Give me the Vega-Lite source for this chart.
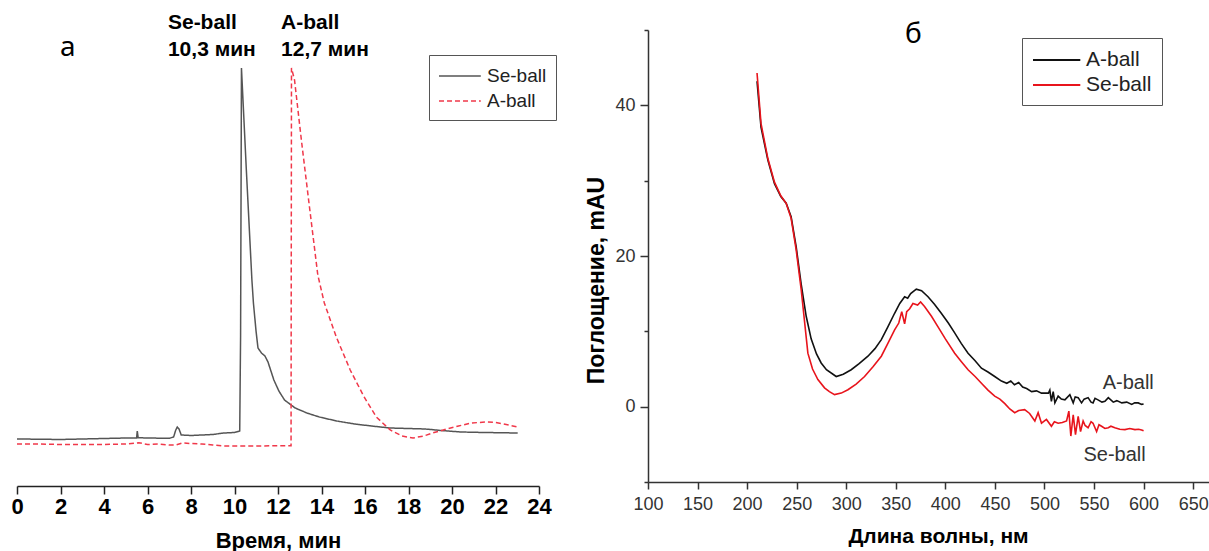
{
  "$schema": "https://vega.github.io/schema/vega-lite/v6.json",
  "background": "white",
  "padding": {"left": 10, "top": 12, "right": 0, "bottom": 0},
  "bounds": "flush",
  "spacing": 109,
  "config": {"font": "Liberation Sans", "view": {"stroke": null}},
  "datasets": {
    "chrom": [
      {"t":0,"v":47,"s":"Se-ball"},{"t":1,"v":46.8,"s":"Se-ball"},{"t":2,"v":46.5,"s":"Se-ball"},{"t":3,"v":47,"s":"Se-ball"},{"t":4,"v":47.5,"s":"Se-ball"},{"t":5,"v":48,"s":"Se-ball"},{"t":5.5,"v":48,"s":"Se-ball"},{"t":5.53,"v":55,"s":"Se-ball"},{"t":5.57,"v":48.3,"s":"Se-ball"},{"t":6,"v":48,"s":"Se-ball"},{"t":7,"v":47.7,"s":"Se-ball"},{"t":7.2,"v":49,"s":"Se-ball"},{"t":7.3,"v":56,"s":"Se-ball"},{"t":7.37,"v":59,"s":"Se-ball"},{"t":7.45,"v":57,"s":"Se-ball"},{"t":7.55,"v":51,"s":"Se-ball"},{"t":8,"v":50.5,"s":"Se-ball"},{"t":9,"v":51.5,"s":"Se-ball"},{"t":9.5,"v":53,"s":"Se-ball"},{"t":10,"v":53.5,"s":"Se-ball"},{"t":10.24,"v":55,"s":"Se-ball"},{"t":10.28,"v":150,"s":"Se-ball"},{"t":10.32,"v":418,"s":"Se-ball"},{"t":10.54,"v":318,"s":"Se-ball"},{"t":10.8,"v":206,"s":"Se-ball"},{"t":10.87,"v":183,"s":"Se-ball"},{"t":10.99,"v":155,"s":"Se-ball"},{"t":11.08,"v":138,"s":"Se-ball"},{"t":11.24,"v":133,"s":"Se-ball"},{"t":11.4,"v":130,"s":"Se-ball"},{"t":11.54,"v":124,"s":"Se-ball"},{"t":11.81,"v":106,"s":"Se-ball"},{"t":12.04,"v":95,"s":"Se-ball"},{"t":12.3,"v":86,"s":"Se-ball"},{"t":12.79,"v":78,"s":"Se-ball"},{"t":13.33,"v":73,"s":"Se-ball"},{"t":13.9,"v":69,"s":"Se-ball"},{"t":14.7,"v":65,"s":"Se-ball"},{"t":15.52,"v":62,"s":"Se-ball"},{"t":16.3,"v":60,"s":"Se-ball"},{"t":17.15,"v":58,"s":"Se-ball"},{"t":18.78,"v":57,"s":"Se-ball"},{"t":19.5,"v":55.5,"s":"Se-ball"},{"t":20.41,"v":54,"s":"Se-ball"},{"t":21.5,"v":53.5,"s":"Se-ball"},{"t":23.02,"v":53,"s":"Se-ball"},
      {"t":0,"v":42,"s":"A-ball"},{"t":1,"v":42,"s":"A-ball"},{"t":2,"v":41.5,"s":"A-ball"},{"t":3,"v":41.5,"s":"A-ball"},{"t":4,"v":41.5,"s":"A-ball"},{"t":5,"v":42,"s":"A-ball"},{"t":5.6,"v":43.3,"s":"A-ball"},{"t":6,"v":41.5,"s":"A-ball"},{"t":6.5,"v":42,"s":"A-ball"},{"t":7,"v":41,"s":"A-ball"},{"t":7.3,"v":41,"s":"A-ball"},{"t":7.6,"v":43,"s":"A-ball"},{"t":8,"v":42.5,"s":"A-ball"},{"t":8.5,"v":42,"s":"A-ball"},{"t":9,"v":41,"s":"A-ball"},{"t":9.5,"v":40,"s":"A-ball"},{"t":10,"v":40,"s":"A-ball"},{"t":11,"v":40,"s":"A-ball"},{"t":12,"v":40.3,"s":"A-ball"},{"t":12.6,"v":40.3,"s":"A-ball"},{"t":12.62,"v":418,"s":"A-ball"},{"t":12.76,"v":406,"s":"A-ball"},{"t":13.08,"v":345,"s":"A-ball"},{"t":13.43,"v":282,"s":"A-ball"},{"t":13.83,"v":211,"s":"A-ball"},{"t":14.13,"v":183,"s":"A-ball"},{"t":14.68,"v":149,"s":"A-ball"},{"t":15.32,"v":116,"s":"A-ball"},{"t":15.96,"v":89,"s":"A-ball"},{"t":16.52,"v":69,"s":"A-ball"},{"t":17.16,"v":56,"s":"A-ball"},{"t":17.7,"v":50,"s":"A-ball"},{"t":18.21,"v":48,"s":"A-ball"},{"t":18.7,"v":50,"s":"A-ball"},{"t":19.11,"v":53,"s":"A-ball"},{"t":19.76,"v":57,"s":"A-ball"},{"t":20.3,"v":60,"s":"A-ball"},{"t":20.9,"v":63,"s":"A-ball"},{"t":21.56,"v":64,"s":"A-ball"},{"t":22.0,"v":63.5,"s":"A-ball"},{"t":22.37,"v":62,"s":"A-ball"},{"t":23.02,"v":59,"s":"A-ball"}
    ],
    "annL": [
      {"t":6.94,"v":463,"label":"Se-ball"},
      {"t":6.94,"v":436,"label":"10,3 мин"},
      {"t":12.14,"v":463,"label":"A-ball"},
      {"t":12.14,"v":436,"label":"12,7 мин"}
    ],
    "panelL": [{"t":2.34,"v":438,"label":"а"}],
    "spec": [
      {"nm":210,"a":43.2,"s":"A-ball"},{"nm":214,"a":37.1,"s":"A-ball"},{"nm":221,"a":32.7,"s":"A-ball"},{"nm":227.6,"a":29.6,"s":"A-ball"},{"nm":234,"a":27.9,"s":"A-ball"},{"nm":239.4,"a":27.0,"s":"A-ball"},{"nm":244.4,"a":25.2,"s":"A-ball"},{"nm":249.5,"a":21.2,"s":"A-ball"},{"nm":254.5,"a":16.3,"s":"A-ball"},{"nm":259.6,"a":12.0,"s":"A-ball"},{"nm":264.6,"a":9.0,"s":"A-ball"},{"nm":270,"a":7.0,"s":"A-ball"},{"nm":274.7,"a":5.8,"s":"A-ball"},{"nm":280,"a":4.9,"s":"A-ball"},{"nm":289.9,"a":4.0,"s":"A-ball"},{"nm":297,"a":4.3,"s":"A-ball"},{"nm":305,"a":4.9,"s":"A-ball"},{"nm":313,"a":5.7,"s":"A-ball"},{"nm":321.9,"a":6.7,"s":"A-ball"},{"nm":329,"a":7.7,"s":"A-ball"},{"nm":335.4,"a":8.9,"s":"A-ball"},{"nm":342,"a":10.6,"s":"A-ball"},{"nm":348.8,"a":12.4,"s":"A-ball"},{"nm":354,"a":13.7,"s":"A-ball"},{"nm":358.9,"a":14.6,"s":"A-ball"},{"nm":362,"a":14.4,"s":"A-ball"},{"nm":365,"a":15.0,"s":"A-ball"},{"nm":370.7,"a":15.6,"s":"A-ball"},{"nm":376,"a":15.4,"s":"A-ball"},{"nm":382.5,"a":14.6,"s":"A-ball"},{"nm":389,"a":13.6,"s":"A-ball"},{"nm":395.9,"a":12.4,"s":"A-ball"},{"nm":403,"a":11.1,"s":"A-ball"},{"nm":409.4,"a":9.8,"s":"A-ball"},{"nm":416,"a":8.4,"s":"A-ball"},{"nm":422.9,"a":7.1,"s":"A-ball"},{"nm":430,"a":6.1,"s":"A-ball"},{"nm":436.4,"a":5.1,"s":"A-ball"},{"nm":443,"a":4.6,"s":"A-ball"},{"nm":449.8,"a":4.0,"s":"A-ball"},{"nm":456.6,"a":3.4,"s":"A-ball"},{"nm":462,"a":3.1,"s":"A-ball"},{"nm":466,"a":3.4,"s":"A-ball"},{"nm":469.7,"a":2.9,"s":"A-ball"},{"nm":474,"a":3.2,"s":"A-ball"},{"nm":478,"a":2.6,"s":"A-ball"},{"nm":482,"a":2.4,"s":"A-ball"},{"nm":487,"a":2.0,"s":"A-ball"},{"nm":492,"a":2.1,"s":"A-ball"},{"nm":497,"a":1.8,"s":"A-ball"},{"nm":504,"a":1.8,"s":"A-ball"},{"nm":505.4,"a":2.2,"s":"A-ball"},{"nm":507,"a":0.7,"s":"A-ball"},{"nm":508.8,"a":2.0,"s":"A-ball"},{"nm":510.5,"a":0.5,"s":"A-ball"},{"nm":513.8,"a":1.4,"s":"A-ball"},{"nm":517,"a":1.0,"s":"A-ball"},{"nm":520.6,"a":0.9,"s":"A-ball"},{"nm":525.6,"a":1.6,"s":"A-ball"},{"nm":529,"a":0.5,"s":"A-ball"},{"nm":531,"a":1.3,"s":"A-ball"},{"nm":534,"a":1.2,"s":"A-ball"},{"nm":537.4,"a":0.5,"s":"A-ball"},{"nm":540,"a":1.0,"s":"A-ball"},{"nm":544,"a":1.2,"s":"A-ball"},{"nm":547,"a":0.6,"s":"A-ball"},{"nm":549,"a":0.5,"s":"A-ball"},{"nm":551,"a":1.1,"s":"A-ball"},{"nm":554,"a":0.9,"s":"A-ball"},{"nm":558,"a":0.6,"s":"A-ball"},{"nm":561,"a":0.7,"s":"A-ball"},{"nm":564.4,"a":1.2,"s":"A-ball"},{"nm":569.4,"a":0.6,"s":"A-ball"},{"nm":573,"a":0.8,"s":"A-ball"},{"nm":578,"a":0.5,"s":"A-ball"},{"nm":583,"a":0.6,"s":"A-ball"},{"nm":588,"a":0.3,"s":"A-ball"},{"nm":591,"a":0.5,"s":"A-ball"},{"nm":594.6,"a":0.5,"s":"A-ball"},{"nm":598,"a":0.3,"s":"A-ball"},{"nm":600,"a":0.35,"s":"A-ball"},
      {"nm":210,"a":44.3,"s":"Se-ball"},{"nm":214,"a":37.6,"s":"Se-ball"},{"nm":221,"a":32.9,"s":"Se-ball"},{"nm":227.6,"a":29.8,"s":"Se-ball"},{"nm":234,"a":28.0,"s":"Se-ball"},{"nm":239.4,"a":27.0,"s":"Se-ball"},{"nm":244.4,"a":25.0,"s":"Se-ball"},{"nm":249.5,"a":20.8,"s":"Se-ball"},{"nm":254.5,"a":15.6,"s":"Se-ball"},{"nm":261.3,"a":7.1,"s":"Se-ball"},{"nm":266,"a":5.0,"s":"Se-ball"},{"nm":271.4,"a":3.6,"s":"Se-ball"},{"nm":278.1,"a":2.5,"s":"Se-ball"},{"nm":283,"a":2.0,"s":"Se-ball"},{"nm":288.2,"a":1.6,"s":"Se-ball"},{"nm":295,"a":1.8,"s":"Se-ball"},{"nm":301.7,"a":2.25,"s":"Se-ball"},{"nm":310,"a":3.0,"s":"Se-ball"},{"nm":318.5,"a":4.0,"s":"Se-ball"},{"nm":327,"a":5.3,"s":"Se-ball"},{"nm":335.4,"a":6.7,"s":"Se-ball"},{"nm":342,"a":8.4,"s":"Se-ball"},{"nm":348.8,"a":10.2,"s":"Se-ball"},{"nm":353,"a":11.1,"s":"Se-ball"},{"nm":356,"a":12.6,"s":"Se-ball"},{"nm":358.9,"a":11.0,"s":"Se-ball"},{"nm":361,"a":12.6,"s":"Se-ball"},{"nm":364,"a":13.0,"s":"Se-ball"},{"nm":367.3,"a":13.7,"s":"Se-ball"},{"nm":372,"a":13.5,"s":"Se-ball"},{"nm":375,"a":13.9,"s":"Se-ball"},{"nm":379,"a":13.3,"s":"Se-ball"},{"nm":386,"a":12.0,"s":"Se-ball"},{"nm":392.6,"a":10.6,"s":"Se-ball"},{"nm":400,"a":9.0,"s":"Se-ball"},{"nm":409.4,"a":7.1,"s":"Se-ball"},{"nm":416,"a":6.0,"s":"Se-ball"},{"nm":422.9,"a":4.9,"s":"Se-ball"},{"nm":430,"a":4.0,"s":"Se-ball"},{"nm":436.4,"a":3.1,"s":"Se-ball"},{"nm":443,"a":2.2,"s":"Se-ball"},{"nm":449.8,"a":1.4,"s":"Se-ball"},{"nm":455,"a":1.0,"s":"Se-ball"},{"nm":460,"a":0.4,"s":"Se-ball"},{"nm":465,"a":-0.3,"s":"Se-ball"},{"nm":470,"a":-0.8,"s":"Se-ball"},{"nm":474,"a":-0.5,"s":"Se-ball"},{"nm":480,"a":-0.4,"s":"Se-ball"},{"nm":485,"a":-0.9,"s":"Se-ball"},{"nm":490.3,"a":-1.9,"s":"Se-ball"},{"nm":493.6,"a":-0.8,"s":"Se-ball"},{"nm":497,"a":-2.2,"s":"Se-ball"},{"nm":502,"a":-1.7,"s":"Se-ball"},{"nm":507,"a":-2.6,"s":"Se-ball"},{"nm":510,"a":-2.0,"s":"Se-ball"},{"nm":513.8,"a":-2.2,"s":"Se-ball"},{"nm":518,"a":-2.1,"s":"Se-ball"},{"nm":522.3,"a":-1.9,"s":"Se-ball"},{"nm":524.6,"a":-0.6,"s":"Se-ball"},{"nm":526.6,"a":-3.9,"s":"Se-ball"},{"nm":529,"a":-1.1,"s":"Se-ball"},{"nm":531.3,"a":-3.7,"s":"Se-ball"},{"nm":534,"a":-1.3,"s":"Se-ball"},{"nm":536.4,"a":-3.3,"s":"Se-ball"},{"nm":539,"a":-1.9,"s":"Se-ball"},{"nm":541,"a":-2.5,"s":"Se-ball"},{"nm":544,"a":-2.8,"s":"Se-ball"},{"nm":547,"a":-2.0,"s":"Se-ball"},{"nm":549,"a":-2.2,"s":"Se-ball"},{"nm":552.6,"a":-3.3,"s":"Se-ball"},{"nm":555,"a":-2.4,"s":"Se-ball"},{"nm":557.6,"a":-2.6,"s":"Se-ball"},{"nm":561,"a":-2.9,"s":"Se-ball"},{"nm":564.4,"a":-2.8,"s":"Se-ball"},{"nm":567,"a":-2.6,"s":"Se-ball"},{"nm":571,"a":-2.8,"s":"Se-ball"},{"nm":576,"a":-3.0,"s":"Se-ball"},{"nm":581.2,"a":-3.05,"s":"Se-ball"},{"nm":586,"a":-2.9,"s":"Se-ball"},{"nm":591.3,"a":-3.05,"s":"Se-ball"},{"nm":595,"a":-3.0,"s":"Se-ball"},{"nm":598,"a":-3.1,"s":"Se-ball"},{"nm":600,"a":-3.2,"s":"Se-ball"}
    ],
    "annR": [
      {"nm":584.5,"a":3.1,"label":"A-ball"},
      {"nm":570.7,"a":-6.4,"label":"Se-ball"}
    ],
    "panelR": [{"nm":367.7,"a":49.3,"label":"б"}]
  },
  "hconcat": [
    {
      "width": 522,
      "height": 456,
      "layer": [
        {
          "data": {"name": "chrom"},
          "mark": {"type": "line", "strokeWidth": 1.5},
          "encoding": {
            "x": {"field": "t", "type": "quantitative",
              "scale": {"domain": [0, 24], "nice": false, "zero": false},
              "axis": {"values": [0,1,2,3,4,5,6,7,8,9,10,11,12,13,14,15,16,17,18,19,20,21,22,23,24],
                "labelExpr": "datum.value % 2 === 0 ? datum.label : ''",
                "tickSize": {"condition": {"test": "datum.value % 2 === 0", "value": 8}, "value": 5},
                "labelFontWeight": "bold", "labelFontSize": 22, "labelColor": "#000", "labelPadding": 2,
                "labelOverlap": false, "labelFlush": false,
                "domainColor": "#222", "domainWidth": 1.5, "tickColor": "#222", "tickWidth": 1.5,
                "grid": false, "title": "Время, мин", "titleFontSize": 22, "titleFontWeight": "bold",
                "titleColor": "#000", "titlePadding": 13}},
            "y": {"field": "v", "type": "quantitative",
              "scale": {"domain": [0, 456], "nice": false, "zero": false}, "axis": null},
            "color": {"field": "s", "type": "nominal",
              "scale": {"domain": ["Se-ball", "A-ball"], "range": ["#555555", "#f0384a"]},
              "legend": {"orient": "none", "legendX": 412, "legendY": 25, "title": null,
                "strokeColor": "#555", "padding": 9, "symbolType": "M-1,0H2.8", "symbolSize": 484,
                "symbolStrokeWidth": 1.5, "labelFontSize": 19, "labelColor": "#222", "rowPadding": 3, "labelOffset": 25}},
            "strokeDash": {"field": "s", "type": "nominal",
              "scale": {"domain": ["Se-ball", "A-ball"], "range": [[1, 0], [5, 3]]},
              "legend": {"orient": "none", "legendX": 412, "legendY": 25, "title": null,
                "strokeColor": "#555", "padding": 9, "symbolType": "M-1,0H2.8", "symbolSize": 484,
                "symbolStrokeWidth": 1.5, "labelFontSize": 19, "labelColor": "#222", "rowPadding": 3, "labelOffset": 25}}
          }
        },
        {
          "data": {"name": "annL"},
          "mark": {"type": "text", "align": "left", "baseline": "middle", "fontWeight": "bold", "fontSize": 21, "color": "#000"},
          "encoding": {
            "x": {"field": "t", "type": "quantitative"},
            "y": {"field": "v", "type": "quantitative"},
            "text": {"field": "label", "type": "nominal"}
          }
        },
        {
          "data": {"name": "panelL"},
          "mark": {"type": "text", "align": "center", "baseline": "middle", "fontSize": 28, "font": "Noto Sans", "color": "#000"},
          "encoding": {
            "x": {"field": "t", "type": "quantitative"},
            "y": {"field": "v", "type": "quantitative"},
            "text": {"field": "label", "type": "nominal"}
          }
        }
      ]
    },
    {
      "width": 562,
      "height": 452,
      "layer": [
        {
          "data": {"name": "spec"},
          "mark": {"type": "line", "strokeWidth": 1.6},
          "encoding": {
            "x": {"field": "nm", "type": "quantitative",
              "scale": {"domain": [100, 667], "nice": false, "zero": false},
              "axis": {"values": [100,125,150,175,200,225,250,275,300,325,350,375,400,425,450,475,500,525,550,575,600,625,650],
                "labelExpr": "datum.value % 50 === 0 ? datum.label : ''",
                "tickSize": {"condition": {"test": "datum.value % 50 === 0", "value": 7}, "value": 4},
                "labelFontSize": 18, "labelColor": "#333", "labelPadding": 6,
                "labelOverlap": false, "labelFlush": false,
                "domainColor": "#333", "domainWidth": 1.5, "tickColor": "#333", "tickWidth": 1.5,
                "grid": false, "title": "Длина волны, нм", "titleFontSize": 21, "titleFontWeight": "bold",
                "titleColor": "#000", "titlePadding": 12, "titleX": 290, "titleAlign": "center"}},
            "y": {"field": "a", "type": "quantitative",
              "scale": {"domain": [-10, 50], "nice": false, "zero": false},
              "axis": {"values": [-10, 0, 10, 20, 30, 40, 50],
                "labelExpr": "datum.value % 20 === 0 ? datum.label : ''",
                "tickSize": {"condition": {"test": "datum.value % 20 === 0", "value": 8}, "value": 4},
                "labelFontSize": 18, "labelColor": "#333", "labelPadding": 5, "labelOverlap": false, "labelFlush": false,
                "domainColor": "#333", "domainWidth": 1.5, "tickColor": "#333", "tickWidth": 1.5,
                "grid": false, "title": "Поглощение, mAU", "titleFontSize": 23, "titleFontWeight": "bold",
                "titleColor": "#000", "titlePadding": 6, "titleY": 250, "titleAlign": "center"}},
            "color": {"field": "s", "type": "nominal",
              "scale": {"domain": ["A-ball", "Se-ball"], "range": ["#111111", "#e8141c"]},
              "legend": {"orient": "none", "legendX": 374, "legendY": 8, "title": null,
                "strokeColor": "#555", "padding": 10, "symbolType": "M-1,0H3.3", "symbolSize": 484,
                "symbolStrokeWidth": 1.8, "labelFontSize": 21, "labelColor": "#222", "rowPadding": 3, "labelOffset": 30}}
          }
        },
        {
          "data": {"name": "annR"},
          "mark": {"type": "text", "align": "center", "baseline": "middle", "fontSize": 20, "color": "#333"},
          "encoding": {
            "x": {"field": "nm", "type": "quantitative"},
            "y": {"field": "a", "type": "quantitative"},
            "text": {"field": "label", "type": "nominal"}
          }
        },
        {
          "data": {"name": "panelR"},
          "mark": {"type": "text", "align": "center", "baseline": "middle", "fontSize": 28, "font": "Noto Sans", "color": "#000"},
          "encoding": {
            "x": {"field": "nm", "type": "quantitative"},
            "y": {"field": "a", "type": "quantitative"},
            "text": {"field": "label", "type": "nominal"}
          }
        }
      ]
    }
  ],
  "resolve": {
    "scale": {"x": "independent", "y": "independent", "color": "independent", "strokeDash": "independent"},
    "legend": {"color": "independent", "strokeDash": "independent"}
  }
}
